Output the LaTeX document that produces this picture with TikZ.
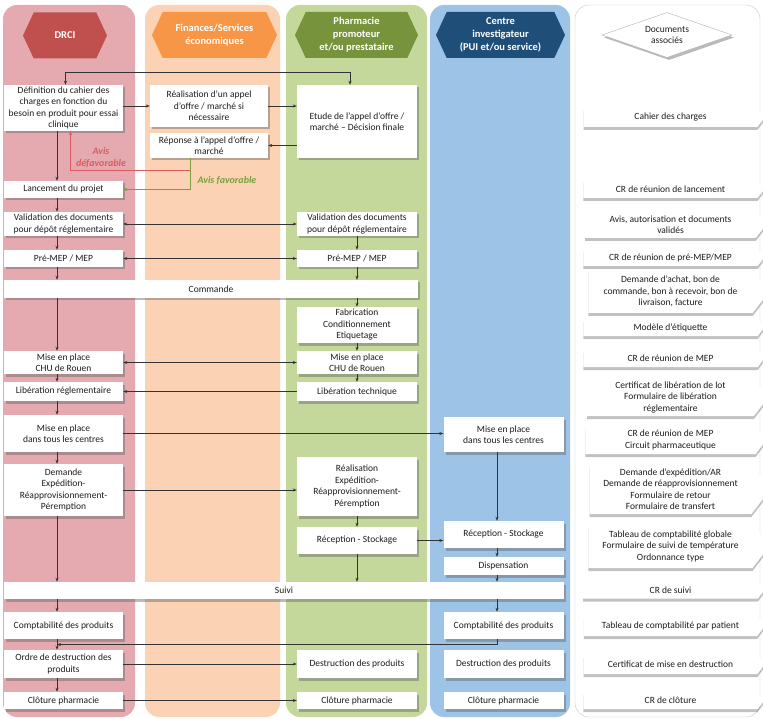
\documentclass[tikz,border=0pt]{standalone}
\usepackage{fontspec}
\setmainfont{Carlito}
\usepackage{tikz}
\usetikzlibrary{arrows.meta, positioning, shapes.symbols, shapes.geometric, shadows, calc}

\definecolor{rosedrci}{RGB}{228,170,176}
\definecolor{pechefin}{RGB}{251,211,180}
\definecolor{vertpharm}{RGB}{196,216,156}
\definecolor{bleucentre}{RGB}{157,195,230}
\definecolor{rougedrci}{RGB}{192,80,77}
\definecolor{orangefin}{RGB}{247,150,70}
\definecolor{vertfonce}{RGB}{119,147,60}
\definecolor{bleufonce}{RGB}{31,78,121}
\definecolor{avisrouge}{RGB}{222,90,95}
\definecolor{avisvert}{RGB}{120,160,60}
\definecolor{texte}{RGB}{30,30,30}

\tikzset{
  couloir/.style={rounded corners=14pt},
  entete/.style={signal, signal to=east and west, signal pointer angle=130,
    text=white, align=center, inner sep=0pt, minimum height=46pt,
    font=\bfseries\fontsize{10.5}{13}\selectfont},
  ombre/.style={drop shadow={shadow xshift=2pt, shadow yshift=-2.5pt, opacity=.45, fill=black!60}},
  etape/.style={fill=white, align=center, inner sep=1pt, ombre, text=texte,
    font=\fontsize{9.5}{11.5}\selectfont},
  colL/.style={etape, minimum width=119pt},
  colF/.style={etape, minimum width=118pt},
  colP/.style={etape, minimum width=120pt},
  colC/.style={etape, minimum width=120pt},
  doc/.style={signal, signal to=east, signal pointer angle=105, fill=white,
    minimum width=181pt, align=center, inner sep=1pt, text=texte,
    drop shadow={shadow xshift=0pt, shadow yshift=-3pt, opacity=.4, fill=black!60},
    font=\fontsize{9.5}{11.5}\selectfont},
  fleche/.style={-{Stealth[length=4pt,width=3pt]}, line width=0.6pt, black!80},
  double/.style={{Stealth[length=4pt,width=3pt]}-{Stealth[length=4pt,width=3pt]}, line width=0.6pt, black!80}
}

\begin{document}
\begin{tikzpicture}[x=1pt, y=-1pt]
\useasboundingbox (0,0) rectangle (763,719);

% couloirs
\fill[couloir, rosedrci] (3,5) rectangle (135,717);
\fill[couloir, pechefin] (145,5) rectangle (280,717);
\fill[couloir, vertpharm] (286,5) rectangle (427,717);
\fill[couloir, bleucentre] (430,5) rectangle (570,717);
\draw[couloir, gray!45, fill=white] (575,5) rectangle (760,717);

% entetes
\node[entete, fill=rougedrci, minimum width=84pt] (hdrci) at (65,35.5) {DRCI};
\node[entete, fill=orangefin, minimum width=125pt] (hfin) at (214.5,35) {Finances/Services\\économiques};
\node[entete, fill=vertfonce, minimum width=123pt] (hpharm) at (356.5,35) {Pharmacie\\promoteur\\et/ou prestataire};
\node[entete, fill=bleufonce, minimum width=129pt] (hcentre) at (500.5,35) {Centre\\investigateur\\(PUI et/ou service)};
\node[diamond, aspect=2.9, draw=gray!60, fill=white, inner sep=0pt, minimum width=130pt,
  minimum height=45pt, text=texte, align=center, ombre,
  font=\fontsize{9.5}{11.5}\selectfont] (hdoc) at (667,35) {Documents\\associés};

% colonne DRCI
\node[colL, minimum height=46pt] (def) at (63.5,108) {Définition du cahier des\\charges en fonction du\\besoin en produit pour essai\\clinique};
\node[colL, minimum height=17pt] (lanc) at (63.5,189.5) {Lancement du projet};
\node[colL, minimum height=24pt] (validL) at (63.5,224) {Validation des documents\\pour dépôt réglementaire};
\node[colL, minimum height=17pt] (premepL) at (63.5,258.5) {Pré-MEP / MEP};
\node[etape, minimum width=414pt, minimum height=18pt] (commande) at (211,289) {Commande};
\node[colL, minimum height=23pt] (chuL) at (63.5,362.5) {Mise en place\\CHU de Rouen};
\node[colL, minimum height=19pt] (libR) at (63.5,391.5) {Libération réglementaire};
\node[colL, minimum height=37pt] (centresL) at (63.5,433.5) {Mise en place\\dans tous les centres};
\node[colL, minimum height=52pt] (demande) at (63.5,490) {Demande\\Expédition-\\Réapprovisionnement-\\Péremption};
\node[etape, minimum width=560pt, minimum height=17pt] (suivi) at (284,590.5) {Suivi};
\node[colL, minimum height=27pt] (comptaL) at (63.5,625.5) {Comptabilité des produits};
\node[colL, minimum height=28pt] (ordre) at (63.5,664) {Ordre de destruction des\\produits};
\node[colL, minimum height=17pt] (clotL) at (63.5,700.5) {Clôture pharmacie};

% colonne finances
\node[colF, minimum height=42pt] (appel) at (209,106) {Réalisation d’un appel\\d’offre / marché si\\nécessaire};
\node[colF, minimum height=25pt] (reponse) at (209,145.5) {Réponse à l’appel d’offre /\\marché};

% colonne pharmacie
\node[colP, minimum height=73pt] (etude) at (357,121.5) {Etude de l’appel d’offre /\\marché – Décision finale};
\node[colP, minimum height=24pt] (validP) at (357,224) {Validation des documents\\pour dépôt réglementaire};
\node[colP, minimum height=17pt] (premepP) at (357,258.5) {Pré-MEP / MEP};
\node[colP, minimum height=36pt] (fabric) at (357,325) {Fabrication\\Conditionnement\\Etiquetage};
\node[colP, minimum height=23pt] (chuP) at (357,362.5) {Mise en place\\CHU de Rouen};
\node[colP, minimum height=19pt] (libT) at (357,391.5) {Libération technique};
\node[colP, minimum height=59pt] (realis) at (357,486.5) {Réalisation\\Expédition-\\Réapprovisionnement-\\Péremption};
\node[colP, minimum height=27pt] (recepP) at (357,540.5) {Réception - Stockage};
\node[colP, minimum height=28pt] (destrP) at (357,664) {Destruction des produits};
\node[colP, minimum height=17pt] (clotP) at (357,700.5) {Clôture pharmacie};

% colonne centre investigateur
\node[colC, minimum height=35pt] (centresC) at (503.5,434.5) {Mise en place\\dans tous les centres};
\node[colC, minimum height=27pt] (recepC) at (503.5,534.5) {Réception - Stockage};
\node[colC, minimum height=18pt] (dispens) at (503.5,566) {Dispensation};
\node[colC, minimum height=27pt] (comptaC) at (503.5,625.5) {Comptabilité des produits};
\node[colC, minimum height=28pt] (destrC) at (503.5,664) {Destruction des produits};
\node[colC, minimum height=17pt] (clotC) at (503.5,700.5) {Clôture pharmacie};

% documents associes
\node[doc, minimum height=19pt] (d1) at (670.5,117.5) {Cahier des charges};
\node[doc, minimum height=18pt] (d2) at (670.5,189) {CR de réunion de lancement};
\node[doc, minimum height=27pt] (d3) at (670.5,224.5) {Avis, autorisation et documents\\validés};
\node[doc, minimum height=17pt] (d4) at (670.5,257.5) {CR de réunion de pré-MEP/MEP};
\node[doc, minimum height=43pt] (d5) at (670.5,291.5) {Demande d’achat, bon de\\commande, bon à recevoir, bon de\\livraison, facture};
\node[doc, minimum height=17pt] (d6) at (670.5,327.5) {Modèle d’étiquette};
\node[doc, minimum height=17pt] (d7) at (670.5,358.5) {CR de réunion de MEP};
\node[doc, minimum height=37pt] (d8) at (670.5,397.5) {Certificat de libération de lot\\Formulaire de libération\\réglementaire};
\node[doc, minimum height=28pt] (d9) at (670.5,440) {CR de réunion de MEP\\Circuit pharmaceutique};
\node[doc, minimum height=50pt] (d10) at (670.5,489) {Demande d’expédition/AR\\Demande de réapprovisionnement\\Formulaire de retour\\Formulaire de transfert};
\node[doc, minimum height=44pt] (d11) at (670.5,546) {Tableau de comptabilité globale\\Formulaire de suivi de température\\Ordonnance type};
\node[doc, minimum height=16pt] (d12) at (670.5,590.5) {CR de suivi};
\node[doc, minimum height=20pt] (d13) at (670.5,626) {Tableau de comptabilité par patient};
\node[doc, minimum height=19pt] (d14) at (670.5,664.5) {Certificat de mise en destruction};
\node[doc, minimum height=17pt] (d15) at (670.5,700.5) {CR de clôture};

% reperes des fleches verticales
\coordinate (xL) at (57,0);
\coordinate (xP) at (357,0);
\coordinate (xC) at (497,0);
\coordinate (joinL) at ($(comptaL.south -| xL)!.5!(ordre.north -| xL)$);

% avis
\node[text=avisrouge, font=\bfseries\itshape\fontsize{10}{12}\selectfont, align=center] (avisdef) at (101,158) {Avis\\défavorable};
\node[text=avisvert, font=\bfseries\itshape\fontsize{10}{12}\selectfont] (avisfav) at (227,181) {Avis favorable};
\draw[-{Stealth[length=4pt,width=3pt]}, avisrouge, line width=0.5pt] ([xshift=-19pt]reponse.south) -- ++(0,12) -| ([xshift=7pt]def.south);
\draw[-{Stealth[length=4pt,width=3pt]}, avisvert, line width=0.5pt] ([xshift=-19pt]reponse.south) |- (lanc.east);

% fleches du haut
\draw[double] ([xshift=2pt]def.north) -- ++(0,-12) -| ([xshift=-7pt]etude.north);
\draw[fleche] (def.east |- appel.west) -- (appel.west);
\draw[fleche] (appel.east) -- (appel.east -| etude.west);
\draw[fleche] (etude.west |- reponse.east) -- (reponse.east);

% verticales
\foreach \a/\b in {def/lanc, lanc/validL, validL/premepL, premepL/commande, commande/chuL,
  chuL/libR, libR/centresL, centresL/demande, demande/suivi, suivi/comptaL, comptaL/ordre, ordre/clotL}
  \draw[fleche] (\a.south -| xL) -- (\b.north -| xL);
\foreach \a/\b in {validP/premepP, premepP/commande, commande/fabric, fabric/chuP, chuP/libT,
  realis/recepP, recepP/suivi}
  \draw[fleche] (\a.south -| xP) -- (\b.north -| xP);
\foreach \a/\b in {centresC/recepC, recepC/dispens, dispens/suivi, suivi/comptaC}
  \draw[fleche] (\a.south -| xC) -- (\b.north -| xC);

% horizontales
\draw[double] (validL) -- (validP);
\draw[double] (premepL) -- (premepP);
\draw[double] (chuL) -- (chuP);
\draw[fleche] (libT) -- (libR);
\draw[fleche] (centresL.east) -- (centresL.east -| centresC.west);
\draw[fleche] (demande.east) -- (demande.east -| realis.west);
\draw[fleche] (recepP.east) -- (recepP.east -| recepC.west);
\draw[fleche] (comptaC.south -| xC) |- (joinL);
\draw[fleche] (ordre) -- (destrP);
\draw[fleche] (clotL) -- (clotP);
\end{tikzpicture}
\end{document}
